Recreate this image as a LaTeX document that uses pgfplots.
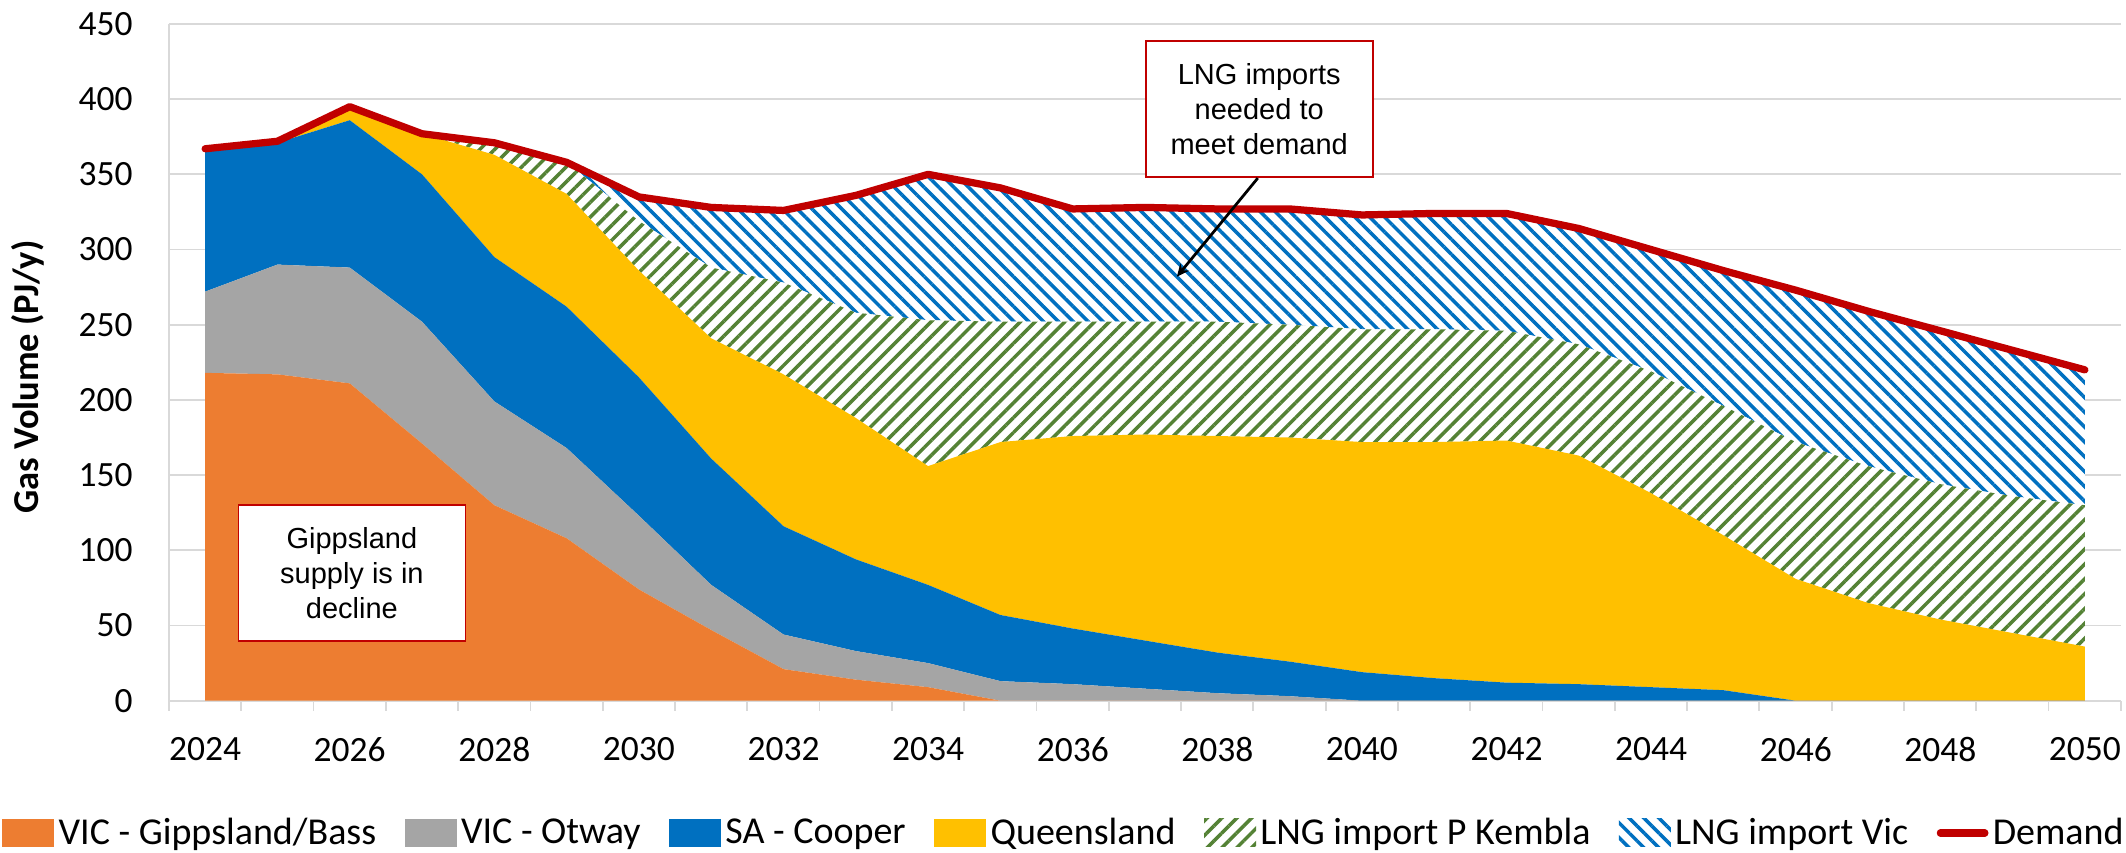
\documentclass[border=0pt]{standalone}
\usepackage{pgfplots}
\pgfplotsset{compat=1.18}
\usepackage{pgfplotstable}
\usepackage{fontspec}
\setmainfont{Carlito}
\newfontfamily\arialfont{Liberation Sans}
\usetikzlibrary{patterns.meta,arrows.meta}

\definecolor{cOrange}{HTML}{ED7D31}
\definecolor{cGrey}{HTML}{A5A5A5}
\definecolor{cBlue}{HTML}{0070C0}
\definecolor{cYellow}{HTML}{FFC000}
\definecolor{cGreen}{HTML}{548235}
\definecolor{cRed}{HTML}{C00000}
\definecolor{gridgray}{HTML}{D9D9D9}

\pgfplotsset{
  arealeg/.style={legend image code/.code={\path[##1] (0pt,-5.6pt) rectangle (20.8pt,5.6pt);}},
  lineleg/.style={legend image code/.code={\draw[##1] (1.5pt,0pt) -- (19.3pt,0pt);}},
}

\pgfplotstableread{
year gipps otway cooper qld kembla vic demand
2024 218 54 95 0 0 0 367
2025 217 73 81 1 0 0 372
2026 211 77 98 9 0 0 395
2027 171 81 98 27 0 0 377
2028 130 69 96 68 8 0 371
2029 108 60 94 75 21 0 358
2030 74 49 92 71 33 16 335
2031 47 30 84 80 47 40 328
2032 21 23 72 101 61 48 326
2033 14 19 61 94 70 78 336
2034 9 16 52 79 97 97 350
2035 0 13 44 115 80 89 341
2036 0 11 37 128 76 75 327
2037 0 8 32 137 75 76 328
2038 0 5 27 144 76 75 327
2039 0 3 23 149 75 77 327
2040 0 0 19 153 75 76 323
2041 0 0 15 157 75 77 324
2042 0 0 12 161 73 78 324
2043 0 0 11 152 74 77 314
2044 0 0 9 129 81 81 300
2045 0 0 7 103 86 90 286
2046 0 0 0 81 91 101 273
2047 0 0 0 65 91 103 259
2048 0 0 0 54 90 102 246
2049 0 0 0 45 91 97 233
2050 0 0 0 36 94 90 220
}\gasdata

\begin{document}
\begin{tikzpicture}
\begin{axis}[
  at={(0pt,0pt)}, anchor=south west,
  scale only axis, width=780.8pt, height=270.7pt,
  xmin=2023.5, xmax=2050.5, ymin=0, ymax=450,
  stack plots=y,
  axis lines*=left,
  axis line style={draw=gridgray, line width=0.7pt},
  xtick={2024,2026,...,2050},
  xticklabels={2024,2026,2028,2030,2032,2034,2036,2038,2040,2042,2044,2046,2048,2050},
  minor xtick={2023.5,2024.5,...,2050.5},
  ytick={0,50,...,450},
  ymajorgrids, grid style={draw=gridgray, line width=0.7pt},
  major tick length=0pt, minor tick length=4pt, tick align=outside,
  tick style={draw=gridgray, line width=0.7pt},
  /pgf/number format/assume math mode=true,
  xticklabel style={font=\fontsize{14.2}{17}\selectfont, inner sep=0pt, anchor=north, yshift=-14.4pt},
  yticklabel style={font=\fontsize{14.2}{17}\selectfont, inner sep=0pt, anchor=east, xshift=-14.4pt},
  ylabel={Gas Volume (PJ/y)},
  every axis y label/.style={at={(axis description cs:-0.0722,0.478)}, rotate=90, anchor=center, font=\bfseries\fontsize{14.6}{17}\selectfont},
  legend columns=7,
  legend cell align=left,
  legend style={at={(axis description cs:-0.0856,-0.1954)}, anchor=west, draw=none, fill=none, inner sep=0pt,
    font=\fontsize{15.2}{18}\selectfont,
    nodes={inner sep=0pt},
    /tikz/every odd column/.append style={column sep=1.7pt},
    /tikz/every even column/.append style={column sep=11.4pt}},
  arealeg,
]
\addplot[fill=cOrange, draw=none] table[x=year,y=gipps]{\gasdata} \closedcycle;
\addlegendentry{VIC - Gippsland/Bass}
\addplot[fill=cGrey, draw=none] table[x=year,y=otway]{\gasdata} \closedcycle;
\addlegendentry{VIC - Otway}
\addplot[fill=cBlue, draw=none] table[x=year,y=cooper]{\gasdata} \closedcycle;
\addlegendentry{SA - Cooper}
\addplot[fill=cYellow, draw=none] table[x=year,y=qld]{\gasdata} \closedcycle;
\addlegendentry{Queensland}
\addplot[fill=white, draw=none, postaction={pattern={Lines[angle=45,distance=4.2pt,line width=1.4pt]}, pattern color=cGreen}] table[x=year,y=kembla]{\gasdata} \closedcycle;
\addlegendentry{LNG import P Kembla}
\addplot[fill=white, draw=none, postaction={pattern={Lines[angle=-45,distance=4.2pt,line width=1.4pt]}, pattern color=cBlue}] table[x=year,y=vic]{\gasdata} \closedcycle;
\addlegendentry{LNG import Vic}
\addlegendimage{lineleg, color=cRed, line width=2.9pt, line cap=round}
\addlegendentry{Demand}
\end{axis}
\begin{axis}[
  at={(0pt,0pt)}, anchor=south west,
  scale only axis, width=780.8pt, height=270.7pt,
  xmin=2023.5, xmax=2050.5, ymin=0, ymax=450,
  hide axis, clip=false,
]
\addplot[color=cRed, line width=2.9pt, line cap=round, line join=round, mark=none] table[x=year,y=demand]{\gasdata};
\node[draw=cRed, line width=0.7pt, fill=white, minimum width=90.8pt, minimum height=54.4pt, align=center, inner sep=0pt,
  font=\arialfont\fontsize{11.6}{14}\selectfont] at (axis cs:2038.58,393.6) {LNG imports\\needed to\\meet demand};
\draw[-{Stealth[length=5pt,width=4.5pt]}, line width=1.1pt] (axis cs:2038.56,347.5) -- (axis cs:2037.44,281.9);
\node[draw=cRed, line width=0.7pt, fill=white, minimum width=90.8pt, minimum height=54.4pt, align=center, inner sep=0pt,
  font=\arialfont\fontsize{11.6}{14}\selectfont] at (axis cs:2026.03,84.9) {Gippsland\\supply is in\\decline};
\end{axis}
\pgfresetboundingbox
\path (-67.6pt,-60.52pt) rectangle (782.8pt,280.28pt);
\end{tikzpicture}
\end{document}
